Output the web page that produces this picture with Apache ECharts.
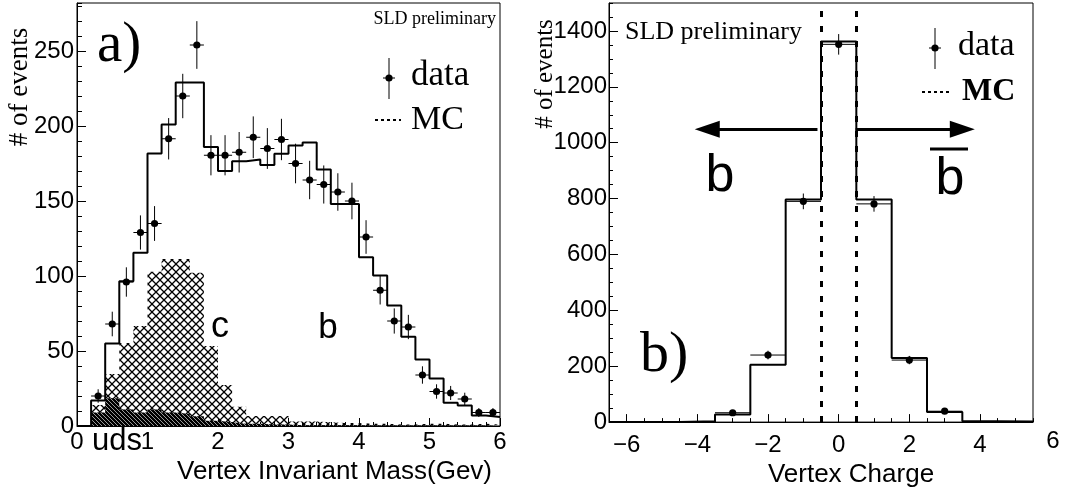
<!DOCTYPE html>
<html><head><meta charset="utf-8">
<script src="https://cdn.jsdelivr.net/npm/echarts@6/dist/echarts.min.js"></script>
<style>html,body{margin:0;padding:0;background:#fff}#c{width:1065px;height:493px}</style>
</head><body><div id="c"></div>
<script>
// ---------- Panel a) : Vertex invariant mass, 0.2 GeV bins from 0 to 6 ----------
const massStart = 0;
const massBinWidth = 0.2;
const massMC   = [0, 17, 55, 96.5, 115.5, 181.7, 201, 229, 229, 186, 170, 176.5, 177.7, 174, 181.5,
                  187, 189, 171, 148, 148, 112.5, 100.3, 80.3, 59.5, 44.3, 31.7, 15.5, 13.7, 7, 6];
const massCuds = [0, 14, 34.7, 55.3, 66.7, 102.9, 111.3, 111.3, 102.2, 53.3, 27.3, 12.9, 6.7, 6.7, 6.7,
                  3, 3, 2.5, 2, 2, 1.5, 1.5, 1, 1, 1.5, 1.5, 1, 1, 1.5, 1];
const massUds  = [0, 9, 18.5, 11, 9, 11, 9, 8, 6.5, 3.5, 2.5, 1.5, 1.5, 1, 1,
                  0.5, 0.5, 0.5, 0.5, 0.5, 0.3, 0.3, 0.3, 0.3, 0.3, 0.3, 0.3, 0.3, 0.3, 0.3];
const massDataX   = [0.3, 0.5, 0.7, 0.9, 1.1, 1.3, 1.5, 1.7, 1.9, 2.1, 2.3, 2.5, 2.7, 2.9, 3.1,
                     3.3, 3.5, 3.7, 3.9, 4.1, 4.3, 4.5, 4.7, 4.9, 5.1, 5.3, 5.5, 5.7, 5.9];
const massDataY   = [20, 68, 96, 129, 135, 191.5, 220, 254, 180.5, 180.5, 182.5, 192.5, 185, 191, 175,
                     164, 161, 156, 150, 126, 90.5, 70, 66, 34, 23, 22, 18, 9, 9];
const massDataErr = [4.5, 8.2, 9.8, 11.4, 11.6, 13.8, 14.8, 15.9, 13.4, 13.4, 13.5, 13.9, 13.6, 13.8, 13.2,
                     12.8, 12.7, 12.5, 12.2, 11.2, 9.5, 8.4, 8.1, 5.8, 4.8, 4.7, 4.2, 3.0, 3.0];

// ---------- Panel b) : Vertex charge, unit bins centred on integers ----------
const chargeStart = -6.5;
const chargeBinWidth = 1;
const chargeMC      = [0, 0, 3, 27, 205, 797, 1362, 797, 229, 36, 3, 2];
const chargeDataX   = [-3, -2, -1, 0, 1, 2, 3];
const chargeDataY   = [33.5, 240, 790, 1352, 781, 222, 39];
const chargeDataErr = [5.8, 15.5, 28.1, 36.8, 27.9, 14.9, 6.2];
const chargeCuts    = [-0.5, 0.5];
const arrowLevel    = 1048;
const arrowLeft     = [-0.6, -3.72];
const arrowRight    = [0.48, 3.5];
const chargeMajorTicks = [-6, -4, -2, 0, 2, 4];

const SANS = '"Liberation Sans", Arial, Helvetica, sans-serif';
const SERIF = '"Liberation Serif", "Times New Roman", serif';

function stepData(start, width, vals) {
  const d = vals.map((v, i) => [start + i * width, v]);
  d.push([start + vals.length * width, vals[vals.length - 1]]);
  return d;
}
function hatchPattern() {
  const s = 8, c = document.createElement('canvas');
  c.width = s; c.height = s;
  const g = c.getContext('2d');
  g.strokeStyle = '#000'; g.lineWidth = 1.3;
  g.beginPath(); g.moveTo(0, 0); g.lineTo(s, s); g.moveTo(0, s); g.lineTo(s, 0); g.stroke();
  return { image: c, repeat: 'repeat' };
}
function udsPattern() {
  const s = 4, c = document.createElement('canvas');
  c.width = s; c.height = s;
  const g = c.getContext('2d');
  g.fillStyle = '#000'; g.fillRect(0, 0, s, s);
  g.strokeStyle = '#fff'; g.lineWidth = 0.6;
  g.beginPath(); g.moveTo(0, 0); g.lineTo(s, s); g.stroke();
  return { image: c, repeat: 'repeat' };
}
function errRender(hw) {
  return function (params, api) {
    const x = api.value(0), y = api.value(1), e = api.value(2);
    const c = api.coord([x, y]);
    const l = api.coord([x - hw, y]), r = api.coord([x + hw, y]);
    const t = api.coord([x, y + e]), b = api.coord([x, y - e]);
    return { type: 'group', children: [
      { type: 'line', shape: { x1: l[0], y1: c[1], x2: r[0], y2: c[1] }, style: { stroke: '#000', lineWidth: 1 } },
      { type: 'line', shape: { x1: c[0], y1: t[1], x2: c[0], y2: b[1] }, style: { stroke: '#000', lineWidth: 1 } },
      { type: 'circle', shape: { cx: c[0], cy: c[1], r: 3.6 }, style: { fill: '#000' } }
    ]};
  };
}
const minusFmt = v => (v < 0 ? '\u2212' + (-v) : String(v));
const plainFmt = v => String(v);
const labelStyle = { color: '#000', fontFamily: SANS, fontSize: 24 };
const tickStyle = { color: '#000' };

const chart = echarts.init(document.getElementById('c'), null, { renderer: 'canvas' });
const option = {
  animation: false,
  backgroundColor: '#fff',
  grid: [
    { left: 77, top: 3, width: 423, height: 423, show: true, borderColor: '#000', borderWidth: 1 },
    { left: 609, top: 3, width: 424, height: 424, show: true, borderColor: '#000', borderWidth: 1 }
  ],
  xAxis: [
    { type: 'value', gridIndex: 0, min: 0, max: 6, interval: 1, position: 'bottom',
      axisLine: { onZero: false, lineStyle: { color: '#000', width: 1 } },
      axisTick: { inside: true, length: 8, lineStyle: tickStyle },
      axisLabel: Object.assign({ margin: 4, formatter: plainFmt }, labelStyle), splitLine: { show: false },
      name: 'Vertex Invariant Mass(Gev)', nameLocation: 'middle', nameGap: 28,
      nameTextStyle: { color: '#000', fontFamily: SANS, fontSize: 26, padding: [0, 0, 0, 92] } },
    { type: 'value', gridIndex: 0, min: 0, max: 6, interval: 0.2, position: 'bottom',
      axisLine: { show: false, onZero: false }, axisTick: { inside: true, length: 4, lineStyle: tickStyle },
      axisLabel: { show: false }, splitLine: { show: false } },
    { type: 'value', gridIndex: 1, min: -6.5, max: 5.5, position: 'bottom',
      axisLine: { onZero: false, lineStyle: { color: '#000', width: 1 } },
      axisTick: { inside: true, length: 8, customValues: chargeMajorTicks, lineStyle: tickStyle },
      axisLabel: Object.assign({ margin: 11, customValues: chargeMajorTicks, formatter: minusFmt }, labelStyle),
      splitLine: { show: false },
      name: 'Vertex Charge', nameLocation: 'middle', nameGap: 33,
      nameTextStyle: { color: '#000', fontFamily: SANS, fontSize: 26, padding: [0, 0, 0, 60] } },
    { type: 'value', gridIndex: 1, min: -6.5, max: 5.5, interval: 0.5, position: 'bottom',
      axisLine: { show: false, onZero: false }, axisTick: { inside: true, length: 4, lineStyle: tickStyle },
      axisLabel: { show: false }, splitLine: { show: false } }
  ],
  yAxis: [
    { type: 'value', gridIndex: 0, min: 0, max: 282, interval: 50, position: 'left',
      axisLine: { show: true, onZero: false, lineStyle: { color: '#000', width: 1 } },
      axisTick: { show: true, inside: true, length: 9, lineStyle: tickStyle },
      axisLabel: Object.assign({ margin: 3, showMaxLabel: false, formatter: plainFmt }, labelStyle), splitLine: { show: false } },
    { type: 'value', gridIndex: 0, min: 0, max: 282, interval: 10, position: 'left',
      axisLine: { show: false, onZero: false }, axisTick: { show: true, inside: true, length: 5, lineStyle: tickStyle },
      axisLabel: { show: false }, splitLine: { show: false } },
    { type: 'value', gridIndex: 1, min: 0, max: 1500, interval: 200, position: 'left',
      axisLine: { show: true, onZero: false, lineStyle: { color: '#000', width: 1 } },
      axisTick: { show: true, inside: true, length: 9, lineStyle: tickStyle },
      axisLabel: Object.assign({ margin: 2, showMaxLabel: false, formatter: plainFmt }, labelStyle), splitLine: { show: false } },
    { type: 'value', gridIndex: 1, min: 0, max: 1500, interval: 50, position: 'left',
      axisLine: { show: false, onZero: false }, axisTick: { show: true, inside: true, length: 4, lineStyle: tickStyle },
      axisLabel: { show: false }, splitLine: { show: false } }
  ],
  series: [
    { name: 'c', type: 'line', xAxisIndex: 0, yAxisIndex: 0, step: 'end', showSymbol: false, symbol: 'none',
      data: stepData(massStart, massBinWidth, massCuds), lineStyle: { width: 0 },
      areaStyle: { color: hatchPattern(), opacity: 1 }, z: 1, silent: true },
    { name: 'uds', type: 'line', xAxisIndex: 0, yAxisIndex: 0, step: 'end', showSymbol: false, symbol: 'none',
      data: stepData(massStart, massBinWidth, massUds), lineStyle: { width: 0 },
      areaStyle: { color: udsPattern(), opacity: 1 }, z: 2, silent: true },
    { name: 'MC a', type: 'line', xAxisIndex: 0, yAxisIndex: 0, step: 'end', showSymbol: false, symbol: 'none',
      data: stepData(massStart, massBinWidth, massMC), lineStyle: { color: '#000', width: 2 }, z: 3, silent: true },
    { name: 'data a', type: 'custom', xAxisIndex: 0, yAxisIndex: 0, renderItem: errRender(massBinWidth / 2),
      encode: { x: 0, y: 1 }, data: massDataX.map((x, i) => [x, massDataY[i], massDataErr[i]]), z: 4, silent: true },
    { name: 'MC b', type: 'line', xAxisIndex: 2, yAxisIndex: 2, step: 'end', showSymbol: false, symbol: 'none',
      data: stepData(chargeStart, chargeBinWidth, chargeMC), lineStyle: { color: '#000', width: 2 }, z: 3, silent: true,
      markLine: { silent: true, symbol: ['none', 'none'], label: { show: false },
        lineStyle: { color: '#000', width: 3, type: [6, 9] },
        data: chargeCuts.map(v => ({ xAxis: v })) } },
    { name: 'data b', type: 'custom', xAxisIndex: 2, yAxisIndex: 2, renderItem: errRender(chargeBinWidth / 2),
      encode: { x: 0, y: 1 }, data: chargeDataX.map((x, i) => [x, chargeDataY[i], chargeDataErr[i]]), z: 4, silent: true,
      markLine: { silent: true, label: { show: false }, symbol: ['none', 'triangle'], symbolSize: [17, 25],
        lineStyle: { color: '#000', width: 3, type: 'solid' },
        data: [
          [{ coord: [arrowLeft[0], arrowLevel] }, { coord: [arrowLeft[1], arrowLevel] }],
          [{ coord: [arrowRight[0], arrowLevel] }, { coord: [arrowRight[1], arrowLevel] }]
        ] } }
  ],
  graphic: [
    // panel a texts
    { type: 'text', x: 97, y: 46, style: { text: 'a)', font: '57px ' + SERIF, fill: '#000', verticalAlign: 'middle' } },
    { type: 'text', x: 496, y: 19, style: { text: 'SLD preliminary', font: '18px ' + SERIF, fill: '#000', align: 'right', verticalAlign: 'middle' } },
    { type: 'line', shape: { x1: 389, y1: 58, x2: 389, y2: 99 }, style: { stroke: '#000', lineWidth: 1 } },
    { type: 'line', shape: { x1: 383, y1: 78, x2: 395, y2: 78 }, style: { stroke: '#000', lineWidth: 1 } },
    { type: 'circle', shape: { cx: 389, cy: 78, r: 3.6 }, style: { fill: '#000' } },
    { type: 'text', x: 411, y: 76, style: { text: 'data', font: '35px ' + SERIF, fill: '#000', verticalAlign: 'middle' } },
    { type: 'line', shape: { x1: 375, y1: 120, x2: 401, y2: 120 }, style: { stroke: '#000', lineWidth: 2, lineDash: [3, 3] } },
    { type: 'text', x: 411, y: 120, style: { text: 'MC', font: '34px ' + SERIF, fill: '#000', verticalAlign: 'middle' } },
    { type: 'text', x: 220, y: 327, style: { text: 'c', font: '36px ' + SANS, fill: '#000', align: 'center', verticalAlign: 'middle' } },
    { type: 'text', x: 328, y: 328, style: { text: 'b', font: '35px ' + SANS, fill: '#000', align: 'center', verticalAlign: 'middle' } },
    { type: 'text', x: 117, y: 441, style: { text: 'uds', font: '31px ' + SANS, fill: '#000', align: 'center', verticalAlign: 'middle' } },
    { type: 'text', x: 20, y: 87, rotation: Math.PI / 2,
      style: { text: '# of events', font: '27px ' + SERIF, fill: '#000', align: 'center', verticalAlign: 'middle' } },
    // panel b texts
    { type: 'text', x: 625, y: 32, style: { text: 'SLD preliminary', font: '26px ' + SERIF, fill: '#000', verticalAlign: 'middle' } },
    { type: 'line', shape: { x1: 935, y1: 28, x2: 935, y2: 69 }, style: { stroke: '#000', lineWidth: 1 } },
    { type: 'line', shape: { x1: 929, y1: 48, x2: 941, y2: 48 }, style: { stroke: '#000', lineWidth: 1 } },
    { type: 'circle', shape: { cx: 935, cy: 48, r: 3.6 }, style: { fill: '#000' } },
    { type: 'text', x: 958, y: 46, style: { text: 'data', font: '34px ' + SERIF, fill: '#000', verticalAlign: 'middle' } },
    { type: 'line', shape: { x1: 922, y1: 92, x2: 949, y2: 92 }, style: { stroke: '#000', lineWidth: 2, lineDash: [3, 3] } },
    { type: 'text', x: 962, y: 92, style: { text: 'MC', font: 'bold 32px ' + SERIF, fill: '#000', verticalAlign: 'middle' } },
    { type: 'text', x: 720, y: 177, style: { text: 'b', font: '52px ' + SANS, fill: '#000', align: 'center', verticalAlign: 'middle' } },
    { type: 'text', x: 950, y: 180, style: { text: 'b', font: '52px ' + SANS, fill: '#000', align: 'center', verticalAlign: 'middle' } },
    { type: 'line', shape: { x1: 930, y1: 149, x2: 968, y2: 149 }, style: { stroke: '#000', lineWidth: 3 } },
    { type: 'text', x: 640, y: 356, style: { text: 'b)', font: '58px ' + SERIF, fill: '#000', verticalAlign: 'middle' } },
    { type: 'text', x: 545, y: 74, rotation: Math.PI / 2,
      style: { text: '# of events', font: '25px ' + SERIF, fill: '#000', align: 'center', verticalAlign: 'middle' } },
    { type: 'text', x: 1053, y: 441, style: { text: '6', font: '24px ' + SANS, fill: '#000', align: 'center', verticalAlign: 'middle' } }
  ]
};
chart.setOption(option);
</script></body></html>
